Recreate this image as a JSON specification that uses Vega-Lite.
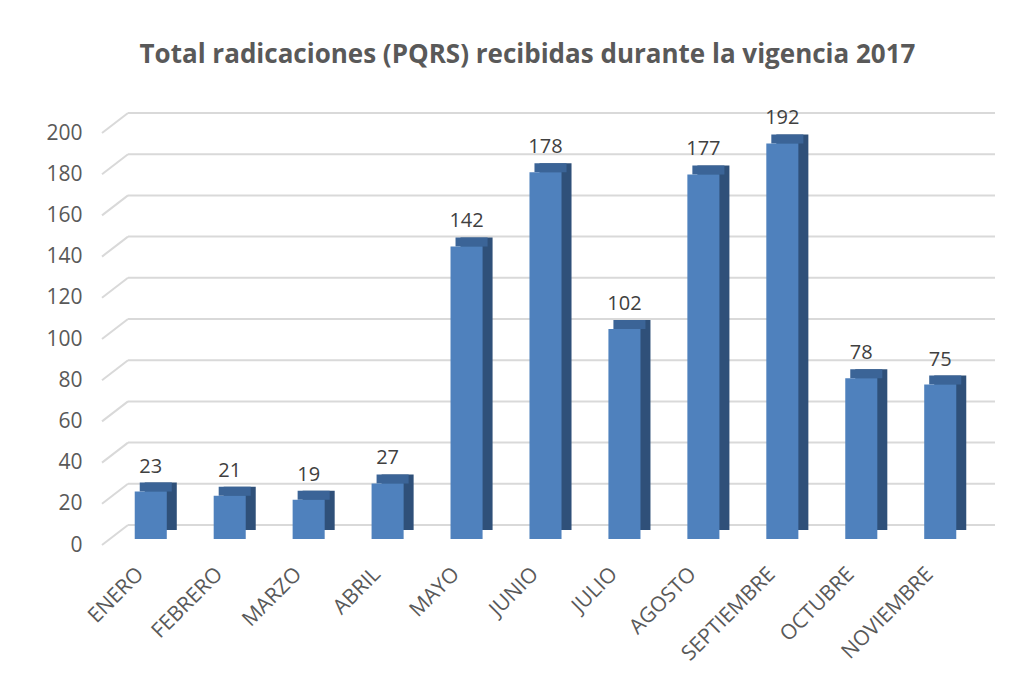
{
  "$schema": "https://vega.github.io/schema/vega-lite/v6.json",
  "width": 891,
  "height": 412,
  "autosize": "none",
  "padding": {"left": 100, "top": 133, "right": 40, "bottom": 139},
  "background": "white",
  "title": {
    "text": "Total radicaciones (PQRS) recibidas durante la vigencia 2017",
    "font": "Open Sans",
    "fontSize": 26,
    "fontWeight": "bold",
    "color": "#595959",
    "anchor": "middle",
    "frame": "group",
    "dx": -18,
    "offset": 40
  },
  "config": {"view": {"stroke": null}, "font": "Open Sans"},
  "resolve": {"scale": {"x": "independent"}, "axis": {"x": "independent"}},
  "datasets": {
    "meses": [
      {"mes": "ENERO", "valor": 23},
      {"mes": "FEBRERO", "valor": 21},
      {"mes": "MARZO", "valor": 19},
      {"mes": "ABRIL", "valor": 27},
      {"mes": "MAYO", "valor": 142},
      {"mes": "JUNIO", "valor": 178},
      {"mes": "JULIO", "valor": 102},
      {"mes": "AGOSTO", "valor": 177},
      {"mes": "SEPTIEMBRE", "valor": 192},
      {"mes": "OCTUBRE", "valor": 78},
      {"mes": "NOVIEMBRE", "valor": 75}
    ],
    "grid": [
      {"v": 0}, {"v": 20}, {"v": 40}, {"v": 60}, {"v": 80}, {"v": 100},
      {"v": 120}, {"v": 140}, {"v": 160}, {"v": 180}, {"v": 200}
    ]
  },
  "layer": [
    {
      "data": {"name": "grid"},
      "mark": {"type": "rule", "color": "#D9D9D9", "strokeWidth": 2, "xOffset": 28, "x2Offset": 4, "yOffset": -20},
      "encoding": {
        "x": {"datum": 0, "type": "quantitative", "scale": {"domain": [0, 1]}, "axis": null},
        "x2": {"datum": 1},
        "y": {
          "field": "v",
          "type": "quantitative",
          "scale": {"domain": [0, 200]},
          "axis": {
            "title": null,
            "values": [0, 20, 40, 60, 80, 100, 120, 140, 160, 180, 200],
            "grid": false,
            "domain": false,
            "ticks": false,
            "labelPadding": 18,
            "labelFontSize": 21,
            "labelColor": "#595959"
          }
        }
      }
    },
    {
      "data": {"name": "grid"},
      "mark": {"type": "rule", "color": "#D9D9D9", "strokeWidth": 2, "xOffset": 2, "x2Offset": 28, "y2Offset": -20},
      "encoding": {
        "x": {"datum": 0, "type": "quantitative", "scale": {"domain": [0, 1]}, "axis": null},
        "x2": {"datum": 0},
        "y": {"field": "v", "type": "quantitative"},
        "y2": {"field": "v"}
      }
    },
    {
      "data": {"name": "meses"},
      "encoding": {
        "x": {
          "field": "mes",
          "type": "nominal",
          "sort": null,
          "scale": {"paddingInner": 0.594, "paddingOuter": 0.44},
          "axis": {
            "title": null,
            "labelAngle": -45,
            "labelFontSize": 21,
            "labelColor": "#595959",
            "labelPadding": 18,
            "labelOffset": -18,
            "domain": false,
            "ticks": false
          }
        },
        "y": {
          "field": "valor",
          "type": "quantitative",
          "axis": {
            "title": null,
            "values": [0, 20, 40, 60, 80, 100, 120, 140, 160, 180, 200],
            "grid": false,
            "domain": false,
            "ticks": false,
            "labelPadding": 18,
            "labelFontSize": 21,
            "labelColor": "#595959"
          }
        }
      },
      "layer": [
        {"mark": {"type": "bar", "color": "#2F5079", "xOffset": 10, "yOffset": -15, "y2Offset": -15}},
        {
          "mark": {"type": "bar", "color": "#3B6497", "xOffset": 5, "yOffset": -15, "y2Offset": -6},
          "encoding": {"y2": {"field": "valor"}}
        },
        {"mark": {"type": "bar", "color": "#4F81BD", "yOffset": -6, "y2Offset": -6}},
        {
          "mark": {"type": "text", "dy": -31, "fontSize": 20, "color": "#404040"},
          "encoding": {"text": {"field": "valor", "type": "quantitative"}}
        }
      ]
    }
  ]
}
